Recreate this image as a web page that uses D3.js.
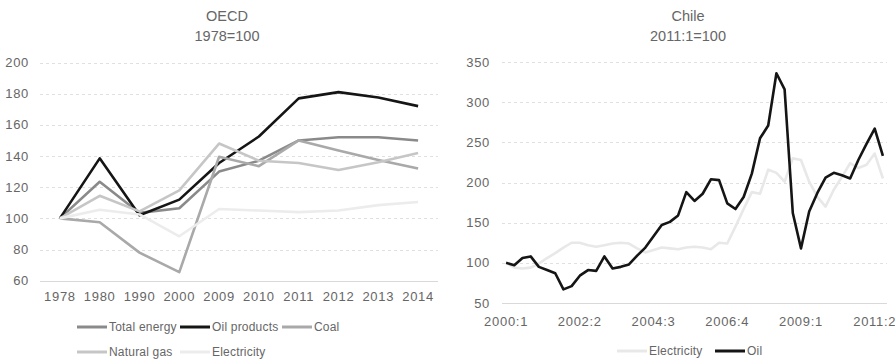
<!DOCTYPE html>
<html>
<head>
<meta charset="utf-8">
<script src="https://cdn.jsdelivr.net/npm/d3@7"></script>
<style>
  body { margin: 0; background: #fff; }
  text { font-family: "Liberation Sans", Arial, sans-serif; fill: #666666; }
</style>
</head>
<body>
<div id="chart"></div>
<script>
// OECD panel data (1978=100)
var oecdYears = ["1978", "1980", "1990", "2000", "2009", "2010", "2011", "2012", "2013", "2014"];
var oecdTotal = [100, 123.5, 103.5, 106.5, 130, 137, 150, 152, 152, 150];
var oecdOil = [100, 138.5, 102, 112, 135.5, 152.5, 177, 181, 177.5, 172];
var oecdCoal = [100, 97.5, 78, 65.5, 139.5, 133.5, 150, 143.5, 137.5, 132];
var oecdGas = [100, 114.5, 104.5, 118, 148, 137, 135.5, 131, 136, 142];
var oecdElec = [100, 105.5, 102.5, 88.5, 106, 105, 104, 105, 108.5, 110.5];
var oecdTicks = [60, 80, 100, 120, 140, 160, 180, 200];

// Chile panel data (2011:1=100), quarterly
var chileQuarters = [
  "2000:1", "2000:2", "2000:3", "2000:4", "2001:1", "2001:2", "2001:3", "2001:4",
  "2002:1", "2002:2", "2002:3", "2002:4", "2003:1", "2003:2", "2003:3", "2003:4",
  "2004:1", "2004:2", "2004:3", "2004:4", "2005:1", "2005:2", "2005:3", "2005:4",
  "2006:1", "2006:2", "2006:3", "2006:4", "2007:1", "2007:2", "2007:3", "2007:4",
  "2008:1", "2008:2", "2008:3", "2008:4", "2009:1", "2009:2", "2009:3", "2009:4",
  "2010:1", "2010:2", "2010:3", "2010:4", "2011:1", "2011:2", "2011:3"
];
var chileElec = [100, 94, 93, 94, 99, 106, 112, 119, 125, 125, 122, 120, 122, 124, 125, 124,
  118, 113, 116, 119, 118, 117, 119, 120, 119, 117, 125, 124, 145, 167, 188, 186,
  216, 212, 201, 230, 228, 201, 182, 170, 191, 207, 224, 218, 222, 236, 205];
var chileOil = [100, 97, 106, 108, 95, 91, 87, 67, 71, 84, 91, 90, 108, 93, 95, 98,
  109, 119, 133, 147, 151, 159, 188, 177, 186, 204, 203, 174, 167, 182, 211, 255,
  271, 336, 316, 162, 118, 164, 187, 206, 212, 209, 205, 228, 248, 267, 233];
var chileXTicks = ["2000:1", "2002:2", "2004:3", "2006:4", "2009:1", "2011:2"];
var chileTicks = [50, 100, 150, 200, 250, 300, 350];

var svg = d3.select("#chart")
  .append("svg")
  .attr("width", 895)
  .attr("height", 360);

// draws the horizontal grid, y tick labels and title block of one panel
function drawFrame(y, ticks, left, right, labelX, title, subtitle, titleX) {
  var g = svg.append("g");

  g.selectAll("line.grid")
    .data(ticks)
    .enter()
    .append("line")
    .attr("x1", left)
    .attr("x2", right)
    .attr("y1", d => Math.round(y(d)) + 0.5)
    .attr("y2", d => Math.round(y(d)) + 0.5)
    .attr("stroke", (d, i) => i == 0 ? "#d9d9d9" : "#e0e0e0")
    .attr("stroke-width", 1)
    .attr("stroke-dasharray", (d, i) => i == 0 ? null : "3,3");

  g.selectAll("text.ytick")
    .data(ticks)
    .enter()
    .append("text")
    .attr("x", labelX)
    .attr("y", d => y(d))
    .attr("dy", "0.35em")
    .attr("text-anchor", "end")
    .attr("font-size", "13px")
    .attr("letter-spacing", "0.7px")
    .text(d => d);

  g.append("text")
    .attr("x", titleX)
    .attr("y", 21)
    .attr("text-anchor", "middle")
    .attr("font-size", "14.5px")
    .text(title);

  g.append("text")
    .attr("x", titleX)
    .attr("y", 41)
    .attr("text-anchor", "middle")
    .attr("font-size", "14.5px")
    .text(subtitle);
}

function legendItem(x, y, color, label) {
  svg.append("line")
    .attr("x1", x)
    .attr("x2", x + 30)
    .attr("y1", y)
    .attr("y2", y)
    .attr("stroke", color)
    .attr("stroke-width", 3);
  svg.append("text")
    .attr("x", x + 32)
    .attr("y", y)
    .attr("dy", "0.35em")
    .attr("font-size", "12px")
    .attr("letter-spacing", "0.2px")
    .text(label);
}

// ---------- OECD ----------
var xOecd = d3.scaleBand()
  .domain(oecdYears)
  .range([40, 438]);

var yOecd = d3.scaleLinear()
  .domain([60, 200])
  .range([280.7, 62.5]);

drawFrame(yOecd, oecdTicks, 40, 438, 29, "OECD", "1978=100", 227);

svg.append("g")
  .selectAll("text")
  .data(oecdYears)
  .enter()
  .append("text")
  .attr("x", d => xOecd(d) + xOecd.bandwidth() / 2)
  .attr("y", 301)
  .attr("text-anchor", "middle")
  .attr("font-size", "13px")
  .attr("letter-spacing", "0.7px")
  .text(d => d);

var oecdLine = d3.line()
  .x((d, i) => xOecd(oecdYears[i]) + xOecd.bandwidth() / 2)
  .y(d => yOecd(d));

var oecdSeries = [
  { name: "Total energy", values: oecdTotal, color: "#8a8a8a" },
  { name: "Oil products", values: oecdOil, color: "#151515" },
  { name: "Coal", values: oecdCoal, color: "#a9a9a9" },
  { name: "Natural gas", values: oecdGas, color: "#c6c6c6" },
  { name: "Electricity", values: oecdElec, color: "#ececec" }
];

oecdSeries.forEach(function(s) {
  svg.append("path")
    .attr("d", oecdLine(s.values))
    .attr("fill", "none")
    .attr("stroke", s.color)
    .attr("stroke-width", 2.6)
    .attr("stroke-linejoin", "round");
});

// legend, three per row
legendItem(77, 327, oecdSeries[0].color, oecdSeries[0].name);
legendItem(180, 327, oecdSeries[1].color, oecdSeries[1].name);
legendItem(282, 327, oecdSeries[2].color, oecdSeries[2].name);
legendItem(77, 352, oecdSeries[3].color, oecdSeries[3].name);
legendItem(180, 352, oecdSeries[4].color, oecdSeries[4].name);

// ---------- Chile ----------
var xChile = d3.scaleBand()
  .domain(chileQuarters)
  .range([502, 887]);

var yChile = d3.scaleLinear()
  .domain([50, 350])
  .range([303, 62]);

drawFrame(yChile, chileTicks, 502, 887, 490, "Chile", "2011:1=100", 688);

svg.append("g")
  .selectAll("text")
  .data(chileXTicks)
  .enter()
  .append("text")
  .attr("x", d => xChile(d) + xChile.bandwidth() / 2)
  .attr("y", 326)
  .attr("text-anchor", "middle")
  .attr("font-size", "13px")
  .attr("letter-spacing", "0.7px")
  .text(d => d);

var chileLine = d3.line()
  .x((d, i) => xChile(chileQuarters[i]) + xChile.bandwidth() / 2)
  .y(d => yChile(d));

svg.append("path")
  .attr("d", chileLine(chileElec))
  .attr("fill", "none")
  .attr("stroke", "#e8e8e8")
  .attr("stroke-width", 2.6)
  .attr("stroke-linejoin", "round");

svg.append("path")
  .attr("d", chileLine(chileOil))
  .attr("fill", "none")
  .attr("stroke", "#151515")
  .attr("stroke-width", 2.6)
  .attr("stroke-linejoin", "round");

legendItem(617, 351, "#e8e8e8", "Electricity");
legendItem(715, 351, "#151515", "Oil");
</script>
</body>
</html>
